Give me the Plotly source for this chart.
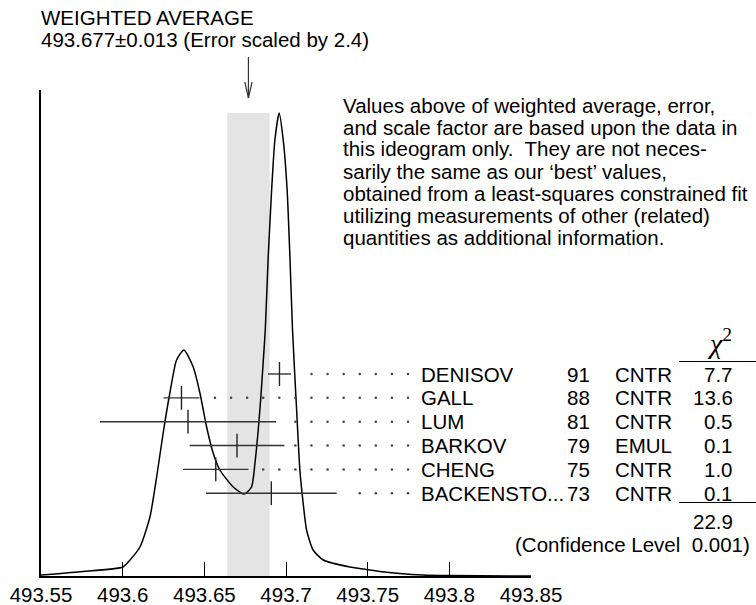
import plotly.graph_objects as go

# measurements (K+- mass, MeV)
names = ["DENISOV", "GALL", "LUM", "BARKOV", "CHENG", "BACKENSTO..."]
years = ["91", "88", "81", "79", "75", "73"]
techniques = ["CNTR", "CNTR", "CNTR", "EMUL", "CNTR", "CNTR"]
values = [493.696, 493.636, 493.640, 493.670, 493.657, 493.691]
errors = [0.007, 0.011, 0.054, 0.029, 0.020, 0.040]
chi2 = ["7.7", "13.6", "0.5", "0.1", "1.0", "0.1"]
chi2_total = "22.9"
confidence = "0.001"

avg_value = 493.677
avg_error = 0.013
scale_factor = 2.4

# ideogram curve (arbitrary height units)
ideo_x = [493.5500, 493.5739, 493.6002, 493.6045, 493.6106, 493.6167, 493.6208,
          493.6248, 493.6289, 493.6330, 493.6375, 493.6432, 493.6473, 493.6514,
          493.6554, 493.6595, 493.6677, 493.6744, 493.6789, 493.6810, 493.6830,
          493.6846, 493.6860, 493.6873, 493.6891, 493.6912, 493.6932, 493.6958,
          493.6983, 493.7007, 493.7024, 493.7040, 493.7065, 493.7085, 493.7105,
          493.7126, 493.7166, 493.7228, 493.7391, 493.7493, 493.7575, 493.7697,
          493.7838, 493.7997, 493.8500]
ideo_y = [1, 4.3, 9, 16, 29, 59, 99,
          143, 183, 216, 226, 209, 183, 149,
          123, 106, 89, 82, 89, 113, 146,
          179, 213, 246, 319, 386, 436, 463,
          436, 386, 319, 246, 166, 106, 73,
          46, 26, 16, 9, 6.5, 4.5, 2.5,
          1, 0.4, 0]

tick_vals = [493.55, 493.6, 493.65, 493.7, 493.75, 493.8, 493.85]
tick_text = ["493.55", "493.6", "493.65", "493.7", "493.75", "493.8", "493.85"]

note_lines = [
    "Values above of weighted average, error,",
    "and scale factor are based upon the data in",
    "this ideogram only.  They are not neces-",
    "sarily the same as our \u2018best\u2019 values,",
    "obtained from a least-squares constrained fit",
    "utilizing measurements of other (related)",
    "quantities as additional information.",
]

FONT = "Liberation Sans, Arial, sans-serif"
FS = 20.5

# plot area in pixels: x 41..531, y 90..576
L, R, T, B = 41, 531, 90, 576


def px(xp):
    return (xp - L) / (R - L)


def py(yp):
    return (B - yp) / (B - T)


row_top = 202
row_step = 23.85
row_y = [row_top - i * row_step for i in range(len(names))]

fig = go.Figure()

fig.add_trace(go.Scatter(x=ideo_x, y=ideo_y, mode="lines",
                         line=dict(color="black", width=1.5, shape="spline", smoothing=0.6),
                         hoverinfo="skip"))

# leader dots
dot_start, dot_step, n_dots = 493.6565, 0.00985, 13
dx, dy = [], []
for v, e, y in zip(values, errors, row_y):
    for k in range(n_dots):
        d = dot_start + k * dot_step
        if d > v + e + 0.005:
            dx.append(d)
            dy.append(y)
fig.add_trace(go.Scatter(x=dx, y=dy, mode="markers",
                         marker=dict(size=2.5, color="#444"), hoverinfo="skip"))

fig.add_trace(go.Scatter(x=values, y=row_y, mode="markers",
                         marker=dict(symbol="line-ns", size=17,
                                     line=dict(color="#222", width=1.4)),
                         error_x=dict(type="data", array=errors, width=0,
                                      thickness=1.4, color="#333"),
                         hoverinfo="skip"))

shapes = [
    dict(type="rect", xref="x", yref="y", x0=avg_value - avg_error, x1=avg_value + avg_error,
         y0=0, y1=max(ideo_y), fillcolor="#e4e4e4", line=dict(width=0), layer="below"),
    dict(type="line", xref="x", yref="paper", x0=avg_value, x1=avg_value,
         y0=py(57), y1=py(98), line=dict(color="#333", width=1.2)),
    dict(type="line", xref="x", yref="paper", x0=avg_value - 0.0022, x1=avg_value,
         y0=py(82), y1=py(98), line=dict(color="#333", width=1.2)),
    dict(type="line", xref="x", yref="paper", x0=avg_value + 0.0022, x1=avg_value,
         y0=py(82), y1=py(98), line=dict(color="#333", width=1.2)),
    dict(type="line", xref="paper", yref="paper", x0=px(679), x1=px(756),
         y0=py(361.5), y1=py(361.5), line=dict(color="black", width=1.2)),
    dict(type="line", xref="paper", yref="paper", x0=px(679), x1=px(756),
         y0=py(502.5), y1=py(502.5), line=dict(color="black", width=1.2)),
]

ann = []


def text(x, y, s, anchor="left", size=FS, family=FONT, yref="paper"):
    ann.append(dict(x=x, y=y, xref="paper", yref=yref, text=s, showarrow=False,
                    xanchor=anchor, yanchor="middle",
                    font=dict(family=family, size=size, color="black")))


text(px(39), py(17.5), "WEIGHTED AVERAGE")
text(px(39), py(40), "%.3f\u00b1%.3f (Error scaled by %.1f)" % (avg_value, avg_error, scale_factor))

for i, line in enumerate(note_lines):
    text(px(341), py(105 + i * 22), line)

for i in range(len(names)):
    text(px(419), row_y[i], names[i], yref="y")
    text(px(592), row_y[i], years[i], anchor="right", yref="y")
    text(px(613), row_y[i], techniques[i], yref="y")
    text(px(735), row_y[i], chi2[i], anchor="right", yref="y")

text(px(719), py(341), "<i>\u03c7</i><sup>2</sup>", anchor="center", size=28,
     family="Liberation Serif, Times New Roman, serif")
text(px(735), py(521), chi2_total, anchor="right")
text(px(752), py(544), "(Confidence Level\u00a0\u00a0" + confidence + ")", anchor="right")

fig.update_layout(
    template="none",
    width=756, height=605, autosize=False,
    margin=dict(l=L, r=756 - R, t=T, b=605 - B),
    paper_bgcolor="white", plot_bgcolor="white",
    showlegend=False,
    shapes=shapes,
    annotations=ann,
    font=dict(family=FONT, size=FS, color="black"),
    xaxis=dict(range=[493.55, 493.85], tickvals=tick_vals, ticktext=tick_text,
               showline=True, linecolor="black", linewidth=1.5,
               ticks="inside", ticklen=14, tickwidth=1.2, tickcolor="black",
               showgrid=False, zeroline=False, tickfont=dict(size=FS),
               automargin=False, fixedrange=True),
    yaxis=dict(range=[0, B - T], showline=True, linecolor="black", linewidth=1.5,
               showticklabels=False, ticks="", showgrid=False, zeroline=False,
               automargin=False, fixedrange=True),
)

# the page body has a default 8px margin; drop it so the figure fills the window
fig.write_html("out.html", config={"responsive": False, "displayModeBar": False},
               post_script="document.body.style.margin='0';"
                           "document.body.style.overflow='hidden';")
